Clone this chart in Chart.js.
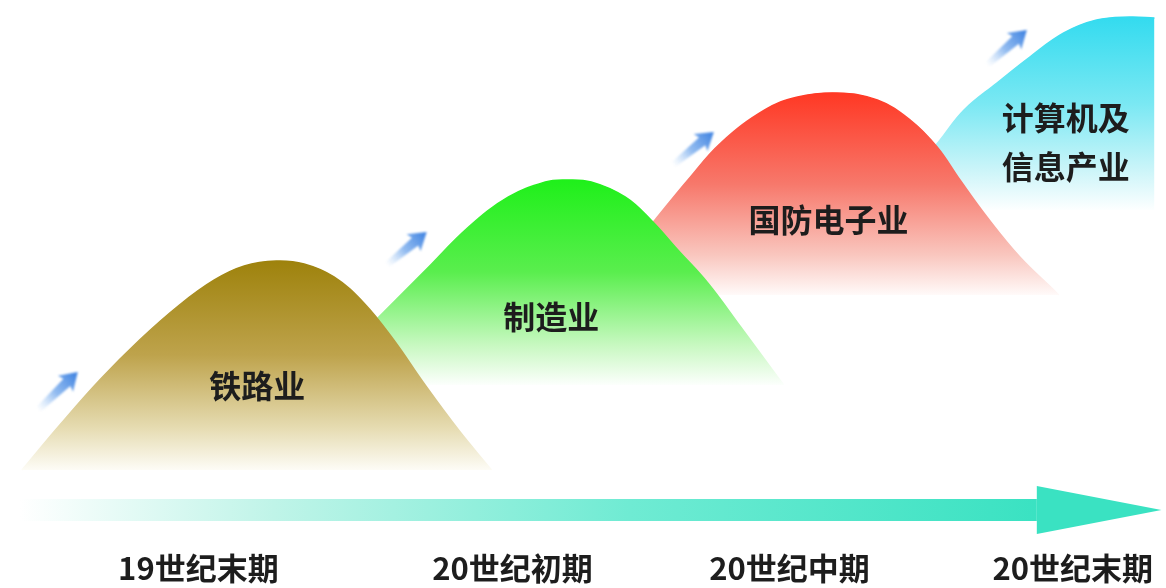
<!DOCTYPE html>
<html>
<head>
<meta charset="utf-8">
<script src="https://cdn.jsdelivr.net/npm/chart.js@4.4.1/dist/chart.umd.min.js"></script>
<style>
  html, body { margin: 0; padding: 0; background: #fff; }
  #wrap { width: 1166px; height: 588px; }
</style>
</head>
<body>
<div id="wrap"><canvas id="chart"></canvas></div>
<script>
// periods along the time arrow
const periods = ['19世纪末期', '20世纪初期', '20世纪中期', '20世纪末期'];
const periodX = [199, 514, 792, 1076];

// leading industry of each period
const industries = ['铁路业', '制造业', '国防电子业', '计算机及\n信息产业'];

// curve of each industry (x = time, y = level)
const railX = [22, 60, 100, 140, 180, 215, 245, 277, 305, 335, 365, 395, 425, 460, 493];
const railY = [70, 115, 160, 200, 235, 260, 274, 279, 276, 263, 237, 200, 157, 110, 70];

const makeX = [312, 350, 380, 427, 470, 510, 547, 567, 593, 627, 653, 680, 710, 743, 780, 786];
const makeY = [155, 193, 223, 270, 313, 343, 358, 360, 358, 343, 320, 290, 257, 213, 163, 155];

const defX = [595, 630, 657, 690, 723, 767, 800, 840, 880, 913, 940, 963, 990, 1023, 1057, 1062];
const defY = [245, 287, 320, 360, 397, 430, 443, 447, 440, 420, 393, 360, 323, 283, 250, 245];

const itX = [887, 915, 943, 967, 1000, 1033, 1067, 1100, 1133, 1158];
const itY = [330, 365, 400, 430, 457, 483, 507, 520, 523, 522];

const baseLevels = [70, 155, 245, 330];

const pts = (xs, ys) => xs.map((x, i) => ({ x: x, y: ys[i] }));

function vGrad(stops, top, base) {
  return function (ctx) {
    const chart = ctx.chart;
    if (!chart.chartArea) return stops[0][1];
    const y0 = chart.scales.y.getPixelForValue(top);
    const y1 = chart.scales.y.getPixelForValue(base);
    const g = chart.ctx.createLinearGradient(0, y0, 0, y1);
    stops.forEach(s => g.addColorStop(s[0], s[1]));
    return g;
  };
}

const railStops = [[0, '#9e820c'], [0.45, '#bea34c'], [0.8, '#e6dcb2'], [1, '#fdfcf6']];
const makeStops = [[0, '#1ff01a'], [0.45, '#5aee4e'], [0.8, '#c6f8bf'], [1, '#fcfffc']];
const defStops = [[0, '#ff3824'], [0.45, '#f7786b'], [0.8, '#f9c6be'], [1, '#fffaf9']];
const itStops = [[0, '#33dbef'], [0.45, '#7ae8f3'], [0.8, '#cdf5f9'], [1, '#fdffff']];

function mountain(xs, ys, stops, base) {
  const top = Math.max(...ys);
  return {
    data: pts(xs, ys),
    fill: { value: base },
    backgroundColor: vGrad(stops, top, base),
    borderColor: vGrad(stops, top, base),
    borderWidth: 1.5,
    pointRadius: 0,
    tension: 0.4
  };
}

// small blue arrows: [x0, y0, x1, y1] in chart units
const upArrows = [
  [38, 130, 78, 168],
  [388, 275, 428, 308],
  [675, 375, 716, 408],
  [990, 475, 1030, 510]
];
// label anchors for the industries
const labelPos = [[258, 154], [553, 223], [831, 320], [1069, 398]];

const decor = {
  id: 'decor',
  afterDatasetsDraw(chart) {
    const ctx = chart.ctx;
    const xs = chart.scales.x, ys = chart.scales.y;

    // time arrow
    const ax0 = xs.getPixelForValue(20), ax1 = xs.getPixelForValue(1040), tip = xs.getPixelForValue(1165);
    const ay = ys.getPixelForValue(30);
    const bar = ctx.createLinearGradient(ax0, 0, ax1, 0);
    bar.addColorStop(0, 'rgba(255,255,255,1)');
    bar.addColorStop(0.25, '#bff4e8');
    bar.addColorStop(0.6, '#6febd3');
    bar.addColorStop(1, '#3ae2c2');
    ctx.save();
    ctx.fillStyle = bar;
    ctx.fillRect(ax0, ay - 11, ax1 - ax0, 22);
    ctx.fillStyle = '#3ae2c2';
    ctx.beginPath();
    ctx.moveTo(ax1, ay - 24);
    ctx.lineTo(tip, ay);
    ctx.lineTo(ax1, ay + 24);
    ctx.closePath();
    ctx.fill();
    ctx.restore();

    // small blue arrows
    upArrows.forEach(a => {
      const x0 = xs.getPixelForValue(a[0]), y0 = ys.getPixelForValue(a[1]);
      const x1 = xs.getPixelForValue(a[2]), y1 = ys.getPixelForValue(a[3]);
      const len = Math.hypot(x1 - x0, y1 - y0);
      ctx.save();
      ctx.translate(x0, y0);
      ctx.rotate(Math.atan2(y1 - y0, x1 - x0));
      ctx.filter = 'blur(1px)';
      const g = ctx.createLinearGradient(0, 0, len, 0);
      g.addColorStop(0, 'rgba(160,200,245,0)');
      g.addColorStop(0.45, 'rgba(110,165,235,0.75)');
      g.addColorStop(1, '#3a7fe0');
      ctx.fillStyle = g;
      ctx.beginPath();
      ctx.moveTo(0, -3);
      ctx.lineTo(len - 15, -5);
      ctx.lineTo(len - 17, -11);
      ctx.lineTo(len, 0);
      ctx.lineTo(len - 17, 11);
      ctx.lineTo(len - 15, 5);
      ctx.lineTo(0, 3);
      ctx.closePath();
      ctx.fill();
      ctx.restore();
    });

    // industry names
    ctx.save();
    ctx.font = 'bold 32px "Noto Sans CJK SC"';
    ctx.fillStyle = '#1d1d1d';
    ctx.textAlign = 'center';
    ctx.textBaseline = 'middle';
    industries.forEach((name, i) => {
      const px = xs.getPixelForValue(labelPos[i][0]);
      const py = ys.getPixelForValue(labelPos[i][1]);
      const lines = name.split('\n');
      lines.forEach((ln, k) => {
        ctx.fillText(ln, px, py + (k - (lines.length - 1) / 2) * 49);
      });
    });
    ctx.restore();
  }
};

new Chart(document.getElementById('chart').getContext('2d'), {
  type: 'line',
  data: {
    datasets: [
      mountain(railX, railY, railStops, baseLevels[0]),
      mountain(makeX, makeY, makeStops, baseLevels[1]),
      mountain(defX, defY, defStops, baseLevels[2]),
      mountain(itX, itY, itStops, baseLevels[3])
    ]
  },
  options: {
    responsive: true,
    maintainAspectRatio: false,
    animation: false,
    layout: { padding: 0 },
    plugins: { legend: { display: false }, tooltip: { enabled: false } },
    scales: {
      x: {
        type: 'linear',
        min: 0,
        max: 1166,
        grid: { display: false, drawTicks: false },
        border: { display: false },
        afterBuildTicks: scale => { scale.ticks = periodX.map(v => ({ value: v })); },
        afterFit: scale => { scale.height = 48; },
        ticks: {
          autoSkip: false,
          maxRotation: 0,
          padding: 13,
          color: '#1d1d1d',
          font: { family: '"Noto Sans CJK SC"', size: 31, weight: 'bold', lineHeight: 1.0 },
          callback: (v, i) => periods[i]
        }
      },
      y: {
        display: false,
        min: 0,
        max: 540
      }
    }
  },
  plugins: [decor]
});
</script>
</body>
</html>
